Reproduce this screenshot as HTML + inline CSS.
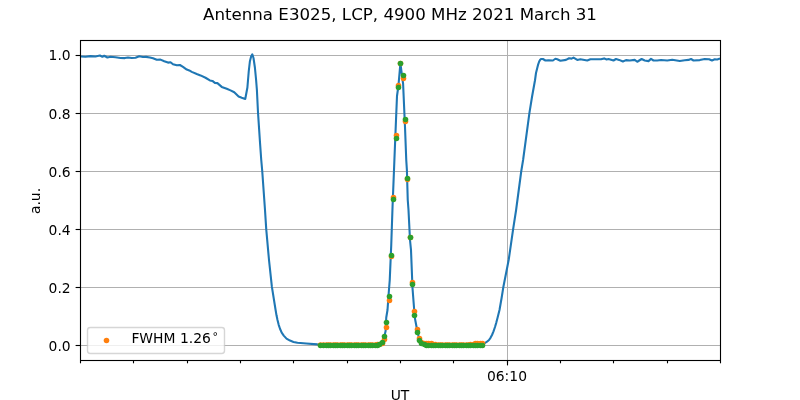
<!DOCTYPE html>
<html lang="en"><head><meta charset="utf-8"><title>Antenna E3025, LCP, 4900 MHz 2021 March 31</title>
<style>html,body{margin:0;padding:0;background:#fff;overflow:hidden}svg{display:block}text{font-family:"DejaVu Sans","Liberation Sans",sans-serif;fill:#000}</style></head><body>
<svg width="800" height="400" viewBox="0 0 800 400">
<rect x="0" y="0" width="800" height="400" fill="#ffffff"/>
<g stroke="#b0b0b0" stroke-width="1.000" fill="none">
<line x1="507.5" y1="40.5" x2="507.5" y2="360.5"/>
<line x1="80.5" y1="55.5" x2="720.5" y2="55.5"/>
<line x1="80.5" y1="113.5" x2="720.5" y2="113.5"/>
<line x1="80.5" y1="171.5" x2="720.5" y2="171.5"/>
<line x1="80.5" y1="229.5" x2="720.5" y2="229.5"/>
<line x1="80.5" y1="287.5" x2="720.5" y2="287.5"/>
<line x1="80.5" y1="345.5" x2="720.5" y2="345.5"/>
</g>
<g stroke="#000" stroke-width="1.11" fill="none">
<line x1="507.5" y1="360.5" x2="507.5" y2="365.4"/>
<line x1="80.5" y1="360.5" x2="80.5" y2="363.3"/>
<line x1="133.5" y1="360.5" x2="133.5" y2="363.3"/>
<line x1="187.5" y1="360.5" x2="187.5" y2="363.3"/>
<line x1="240.5" y1="360.5" x2="240.5" y2="363.3"/>
<line x1="293.5" y1="360.5" x2="293.5" y2="363.3"/>
<line x1="347.5" y1="360.5" x2="347.5" y2="363.3"/>
<line x1="400.5" y1="360.5" x2="400.5" y2="363.3"/>
<line x1="453.5" y1="360.5" x2="453.5" y2="363.3"/>
<line x1="507.5" y1="360.5" x2="507.5" y2="363.3"/>
<line x1="560.5" y1="360.5" x2="560.5" y2="363.3"/>
<line x1="613.5" y1="360.5" x2="613.5" y2="363.3"/>
<line x1="667.5" y1="360.5" x2="667.5" y2="363.3"/>
<line x1="720.5" y1="360.5" x2="720.5" y2="363.3"/>
<line x1="80.5" y1="55.5" x2="75.6" y2="55.5"/>
<line x1="80.5" y1="113.5" x2="75.6" y2="113.5"/>
<line x1="80.5" y1="171.5" x2="75.6" y2="171.5"/>
<line x1="80.5" y1="229.5" x2="75.6" y2="229.5"/>
<line x1="80.5" y1="287.5" x2="75.6" y2="287.5"/>
<line x1="80.5" y1="345.5" x2="75.6" y2="345.5"/>
</g>
<polyline points="80.00,56.50 81.10,56.50 85.50,56.75 90.50,56.10 95.50,56.50 99.90,55.50 102.40,56.75 104.25,55.75 107.40,57.50 110.50,56.75 115.50,57.25 120.50,58.00 124.90,58.10 128.00,57.50 131.75,58.00 135.50,57.75 139.25,56.25 143.00,57.00 146.10,56.90 149.90,57.50 153.00,58.25 156.75,59.75 160.50,59.60 164.25,61.25 168.00,62.60 170.50,62.20 173.00,64.30 176.75,65.25 179.90,65.00 183.00,66.90 186.75,69.60 189.25,70.40 191.75,71.90 196.75,74.00 200.50,75.40 205.50,77.75 209.90,80.40 212.40,80.90 214.90,82.90 217.40,83.10 221.75,86.90 226.75,88.75 230.50,90.40 234.25,92.25 238.60,96.50 241.75,97.75 245.25,99.00 247.40,87.50 248.75,71.25 249.90,61.25 251.20,56.20 252.30,54.30 253.50,58.00 254.90,67.50 256.10,80.00 256.90,90.00 258.00,112.50 260.00,142.50 261.25,160.00 262.25,171.25 265.00,210.00 266.25,229.40 269.00,260.00 271.90,286.90 275.60,310.00 276.50,315.30 277.50,320.00 278.70,324.80 280.00,328.75 281.70,332.70 283.75,335.60 286.50,338.60 290.00,340.60 293.50,341.90 297.50,342.75 306.25,343.50 317.50,344.40 330.00,345.00 360.00,345.20 376.00,345.20 380.00,344.50 382.00,342.50 384.00,338.00 385.60,331.00 386.25,317.50 387.50,310.00 388.75,292.50 389.75,280.00 391.25,245.00 392.60,205.00 394.40,160.00 396.00,120.00 397.00,96.00 398.40,86.00 400.40,63.40 403.10,83.75 405.00,127.00 406.25,160.00 406.90,170.00 407.75,200.00 408.50,210.00 410.00,240.00 411.00,250.00 412.50,288.00 414.00,307.50 415.00,318.75 416.90,328.75 418.50,336.00 420.50,342.00 423.00,344.50 430.00,345.20 470.00,345.20 482.00,344.60 485.00,343.00 487.00,341.70 489.00,340.00 490.50,337.80 492.00,335.00 493.50,331.30 495.00,327.00 496.30,322.60 497.50,318.00 499.50,310.00 501.60,298.00 503.30,287.30 507.00,268.50 508.75,259.50 513.10,229.40 516.10,210.00 521.25,171.25 523.10,160.00 529.40,113.10 532.00,97.00 535.00,80.25 536.00,73.00 537.25,68.00 538.20,64.30 539.10,61.75 540.00,60.00 541.00,59.00 542.90,59.00 545.40,60.50 548.50,60.25 552.90,60.50 555.40,58.75 557.25,59.25 560.40,60.75 566.00,59.90 569.10,58.25 571.60,58.60 573.50,57.60 577.25,59.90 580.40,59.25 587.25,60.50 590.40,59.25 596.00,59.25 601.00,59.25 604.10,58.40 606.60,59.50 608.50,59.00 613.50,60.50 616.00,59.00 619.10,59.90 622.90,61.50 626.00,60.10 629.75,60.50 634.75,59.90 637.25,61.75 641.60,59.00 644.75,60.50 648.50,61.10 651.00,58.90 653.50,60.50 657.25,60.50 661.00,60.00 667.25,60.50 672.25,59.75 679.75,61.00 684.75,60.25 688.50,59.90 691.00,59.00 693.50,60.50 699.75,60.10 704.75,59.00 709.10,59.25 712.00,60.50 714.75,59.25 717.25,59.50 720.00,58.60" fill="none" stroke="#1f77b4" stroke-width="2.083" stroke-linejoin="round" stroke-linecap="butt"/>
<g fill="#ff7f0e">
<circle cx="320.5" cy="345.10" r="2.78"/>
<circle cx="323.5" cy="345.10" r="2.78"/>
<circle cx="326.5" cy="345.10" r="2.78"/>
<circle cx="328.5" cy="345.10" r="2.78"/>
<circle cx="330.5" cy="345.10" r="2.78"/>
<circle cx="333.5" cy="345.10" r="2.78"/>
<circle cx="335.5" cy="345.10" r="2.78"/>
<circle cx="337.5" cy="345.10" r="2.78"/>
<circle cx="340.5" cy="345.10" r="2.78"/>
<circle cx="342.5" cy="345.10" r="2.78"/>
<circle cx="344.5" cy="345.10" r="2.78"/>
<circle cx="347.5" cy="345.10" r="2.78"/>
<circle cx="349.5" cy="345.10" r="2.78"/>
<circle cx="351.5" cy="345.10" r="2.78"/>
<circle cx="354.5" cy="345.10" r="2.78"/>
<circle cx="356.5" cy="345.10" r="2.78"/>
<circle cx="358.5" cy="345.10" r="2.78"/>
<circle cx="361.5" cy="345.10" r="2.78"/>
<circle cx="363.5" cy="345.10" r="2.78"/>
<circle cx="365.5" cy="345.10" r="2.78"/>
<circle cx="368.5" cy="345.10" r="2.78"/>
<circle cx="370.5" cy="345.10" r="2.78"/>
<circle cx="372.5" cy="345.10" r="2.78"/>
<circle cx="375.5" cy="345.10" r="2.78"/>
<circle cx="377.5" cy="344.50" r="2.78"/>
<circle cx="379.5" cy="344.50" r="2.78"/>
<circle cx="382.5" cy="343.50" r="2.78"/>
<circle cx="384.5" cy="339.50" r="2.78"/>
<circle cx="386.5" cy="327.50" r="2.78"/>
<circle cx="389.5" cy="300.50" r="2.78"/>
<circle cx="391.5" cy="256.50" r="2.78"/>
<circle cx="393.5" cy="197.50" r="2.78"/>
<circle cx="396.5" cy="135.50" r="2.78"/>
<circle cx="398.5" cy="85.50" r="2.78"/>
<circle cx="400.5" cy="63.50" r="2.78"/>
<circle cx="403.5" cy="78.50" r="2.78"/>
<circle cx="405.5" cy="121.50" r="2.78"/>
<circle cx="407.5" cy="179.50" r="2.78"/>
<circle cx="410.5" cy="237.50" r="2.78"/>
<circle cx="412.5" cy="282.50" r="2.78"/>
<circle cx="414.5" cy="311.50" r="2.78"/>
<circle cx="417.5" cy="329.50" r="2.78"/>
<circle cx="419.5" cy="338.50" r="2.78"/>
<circle cx="421.5" cy="342.50" r="2.78"/>
<circle cx="424.5" cy="343.50" r="2.78"/>
<circle cx="426.5" cy="343.50" r="2.78"/>
<circle cx="428.5" cy="343.50" r="2.78"/>
<circle cx="431.5" cy="343.50" r="2.78"/>
<circle cx="433.5" cy="344.50" r="2.78"/>
<circle cx="435.5" cy="344.50" r="2.78"/>
<circle cx="438.5" cy="345.10" r="2.78"/>
<circle cx="440.5" cy="345.10" r="2.78"/>
<circle cx="442.5" cy="345.10" r="2.78"/>
<circle cx="445.5" cy="345.10" r="2.78"/>
<circle cx="447.5" cy="345.10" r="2.78"/>
<circle cx="449.5" cy="345.10" r="2.78"/>
<circle cx="452.5" cy="345.10" r="2.78"/>
<circle cx="454.5" cy="345.10" r="2.78"/>
<circle cx="456.5" cy="345.10" r="2.78"/>
<circle cx="459.5" cy="345.10" r="2.78"/>
<circle cx="461.5" cy="345.10" r="2.78"/>
<circle cx="463.5" cy="345.10" r="2.78"/>
<circle cx="466.5" cy="345.10" r="2.78"/>
<circle cx="468.5" cy="345.10" r="2.78"/>
<circle cx="470.5" cy="344.50" r="2.78"/>
<circle cx="473.5" cy="344.50" r="2.78"/>
<circle cx="475.5" cy="343.50" r="2.78"/>
<circle cx="477.5" cy="343.50" r="2.78"/>
<circle cx="480.5" cy="343.50" r="2.78"/>
<circle cx="482.5" cy="343.50" r="2.78"/>
</g>
<g fill="#2ca02c">
<circle cx="320.5" cy="345.50" r="2.78"/>
<circle cx="323.5" cy="345.50" r="2.78"/>
<circle cx="326.5" cy="345.50" r="2.78"/>
<circle cx="328.5" cy="345.50" r="2.78"/>
<circle cx="330.5" cy="345.50" r="2.78"/>
<circle cx="333.5" cy="345.50" r="2.78"/>
<circle cx="335.5" cy="345.50" r="2.78"/>
<circle cx="337.5" cy="345.50" r="2.78"/>
<circle cx="340.5" cy="345.50" r="2.78"/>
<circle cx="342.5" cy="345.50" r="2.78"/>
<circle cx="344.5" cy="345.50" r="2.78"/>
<circle cx="347.5" cy="345.50" r="2.78"/>
<circle cx="349.5" cy="345.50" r="2.78"/>
<circle cx="351.5" cy="345.50" r="2.78"/>
<circle cx="354.5" cy="345.50" r="2.78"/>
<circle cx="356.5" cy="345.50" r="2.78"/>
<circle cx="358.5" cy="345.50" r="2.78"/>
<circle cx="361.5" cy="345.50" r="2.78"/>
<circle cx="363.5" cy="345.50" r="2.78"/>
<circle cx="365.5" cy="345.50" r="2.78"/>
<circle cx="368.5" cy="345.50" r="2.78"/>
<circle cx="370.5" cy="345.50" r="2.78"/>
<circle cx="372.5" cy="345.50" r="2.78"/>
<circle cx="375.5" cy="345.50" r="2.78"/>
<circle cx="377.5" cy="345.50" r="2.78"/>
<circle cx="379.5" cy="344.50" r="2.78"/>
<circle cx="382.5" cy="342.50" r="2.78"/>
<circle cx="384.5" cy="336.50" r="2.78"/>
<circle cx="386.5" cy="322.50" r="2.78"/>
<circle cx="389.5" cy="296.50" r="2.78"/>
<circle cx="391.5" cy="255.50" r="2.78"/>
<circle cx="393.5" cy="199.50" r="2.78"/>
<circle cx="396.5" cy="138.50" r="2.78"/>
<circle cx="398.5" cy="87.50" r="2.78"/>
<circle cx="400.5" cy="63.50" r="2.78"/>
<circle cx="403.5" cy="75.50" r="2.78"/>
<circle cx="405.5" cy="119.50" r="2.78"/>
<circle cx="407.5" cy="178.50" r="2.78"/>
<circle cx="410.5" cy="237.50" r="2.78"/>
<circle cx="412.5" cy="284.50" r="2.78"/>
<circle cx="414.5" cy="315.50" r="2.78"/>
<circle cx="417.5" cy="332.50" r="2.78"/>
<circle cx="419.5" cy="340.50" r="2.78"/>
<circle cx="421.5" cy="343.50" r="2.78"/>
<circle cx="424.5" cy="344.50" r="2.78"/>
<circle cx="426.5" cy="345.50" r="2.78"/>
<circle cx="428.5" cy="345.50" r="2.78"/>
<circle cx="431.5" cy="345.50" r="2.78"/>
<circle cx="433.5" cy="345.50" r="2.78"/>
<circle cx="435.5" cy="345.50" r="2.78"/>
<circle cx="438.5" cy="345.50" r="2.78"/>
<circle cx="440.5" cy="345.50" r="2.78"/>
<circle cx="442.5" cy="345.50" r="2.78"/>
<circle cx="445.5" cy="345.50" r="2.78"/>
<circle cx="447.5" cy="345.50" r="2.78"/>
<circle cx="449.5" cy="345.50" r="2.78"/>
<circle cx="452.5" cy="345.50" r="2.78"/>
<circle cx="454.5" cy="345.50" r="2.78"/>
<circle cx="456.5" cy="345.50" r="2.78"/>
<circle cx="459.5" cy="345.50" r="2.78"/>
<circle cx="461.5" cy="345.50" r="2.78"/>
<circle cx="463.5" cy="345.50" r="2.78"/>
<circle cx="466.5" cy="345.50" r="2.78"/>
<circle cx="468.5" cy="345.50" r="2.78"/>
<circle cx="470.5" cy="345.50" r="2.78"/>
<circle cx="473.5" cy="345.50" r="2.78"/>
<circle cx="475.5" cy="345.50" r="2.78"/>
<circle cx="477.5" cy="345.50" r="2.78"/>
<circle cx="480.5" cy="345.50" r="2.78"/>
<circle cx="482.5" cy="345.50" r="2.78"/>
</g>
<rect x="80.5" y="40.5" width="640" height="320" fill="none" stroke="#000" stroke-width="1.11"/>
<path d="M 90.28 353.50 L 221.72 353.50 Q 224.50 353.50 224.50 350.72 L 224.50 330.28 Q 224.50 327.50 221.72 327.50 L 90.28 327.50 Q 87.50 327.50 87.50 330.28 L 87.50 350.72 Q 87.50 353.50 90.28 353.50 Z" fill="#ffffff" stroke="#cccccc" stroke-width="1.389" opacity="0.8"/>
<circle cx="106.5" cy="340.5" r="2.78" fill="#ff7f0e"/>
<text x="131.39" y="343.11" font-size="13.889">FWHM 1.26<tspan font-size="11" dx="1.6" dy="-3.1">°</tspan></text>
<text x="70.68" y="60.42" font-size="13.889" text-anchor="end">1.0</text>
<text x="70.68" y="118.60" font-size="13.889" text-anchor="end">0.8</text>
<text x="70.68" y="176.79" font-size="13.889" text-anchor="end">0.6</text>
<text x="70.68" y="234.97" font-size="13.889" text-anchor="end">0.4</text>
<text x="70.68" y="293.15" font-size="13.889" text-anchor="end">0.2</text>
<text x="70.68" y="351.33" font-size="13.889" text-anchor="end">0.0</text>
<text x="506.97" y="380.98" font-size="13.889" text-anchor="middle">06:10</text>
<text x="400" y="399.97" font-size="13.889" text-anchor="middle">UT</text>
<text x="39.75" y="201" font-size="13.889" text-anchor="middle" transform="rotate(-90 39.75 201)">a.u.</text>
<text x="400" y="20.1" font-size="16.667" text-anchor="middle">Antenna E3025, LCP, 4900 MHz 2021 March 31</text>
</svg></body></html>
